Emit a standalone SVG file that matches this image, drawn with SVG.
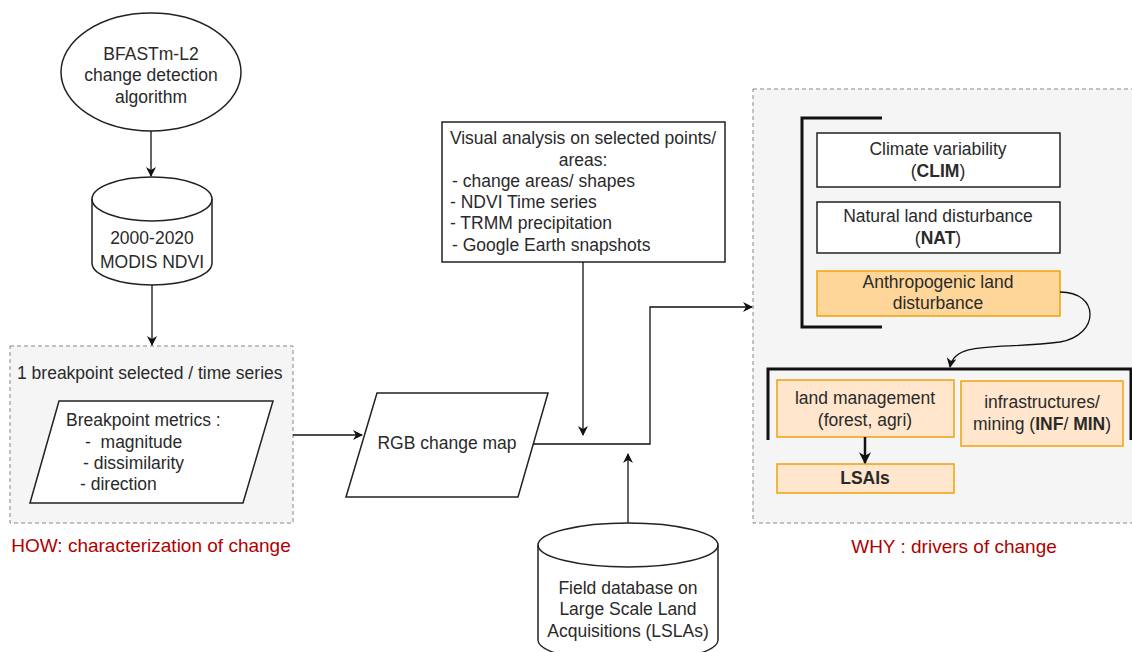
<svg xmlns="http://www.w3.org/2000/svg" width="1132" height="652" viewBox="0 0 1132 652">
<style>
text{font-family:"Liberation Sans",Arial,sans-serif;font-size:17.5px;fill:#2a2a2a;}
.c{text-anchor:middle;}
.red{fill:#b20000;font-size:19px;}
.b{font-weight:bold;}
.sh{fill:#fff;stroke:#222;stroke-width:1.5;}
.grp{fill:#f5f5f5;stroke:#888;stroke-width:1;stroke-dasharray:4 3;}
.br{fill:none;stroke:#111;stroke-width:3;}
.or{fill:#ffd699;stroke:#f0a30a;stroke-width:1.5;}
.lo{fill:#ffe6cc;stroke:#f0a30a;stroke-width:1.5;}
.ln{fill:none;stroke:#111;stroke-width:1.3;}
</style>
<defs>
<marker id="ar" viewBox="0 0 10 10" refX="9" refY="5" markerWidth="10" markerHeight="10" markerUnits="userSpaceOnUse" orient="auto">
<path d="M0,0 L10,5 L0,10 L3,5 Z" fill="#111"/>
</marker>
<marker id="ar2" viewBox="0 0 10 10" refX="9" refY="5" markerWidth="12" markerHeight="12" markerUnits="userSpaceOnUse" orient="auto">
<path d="M0,0 L10,5 L0,10 L3,5 Z" fill="#111"/>
</marker>
</defs>

<g id="how-group">
<rect class="grp" x="10" y="346" width="283" height="177"/>
<text x="17" y="379">1 breakpoint selected / time series</text>
<text class="red c" x="151" y="552">HOW: characterization of change</text>
</g>

<g id="why-group">
<rect class="grp" x="753" y="89" width="390" height="434"/>
<text class="red c" x="954" y="553">WHY : drivers of change</text>
</g>

<g id="bfast">
<ellipse class="sh" cx="151" cy="72" rx="90" ry="59"/>
<text class="c" x="151" y="60">BFASTm-L2</text>
<text class="c" x="151" y="81">change detection</text>
<text class="c" x="151" y="103">algorithm</text>
</g>

<g id="modis">
<path class="sh" d="M92,199 A60,22 0 0 1 212,199 L212,263 A60,22 0 0 1 92,263 Z"/>
<path d="M92,199 A60,22 0 0 0 212,199" fill="none" stroke="#222" stroke-width="1.5"/>
<text class="c" x="152" y="244">2000-2020</text>
<text class="c" x="152" y="268">MODIS NDVI</text>
</g>

<g id="metrics">
<path class="sh" d="M59,401 L273,401 L243,503 L30,503 Z"/>
<text x="66" y="426">Breakpoint metrics :</text>
<text x="85" y="448" xml:space="preserve">-  magnitude</text>
<text x="83" y="469">- dissimilarity</text>
<text x="80" y="490">- direction</text>
</g>

<g id="rgb">
<path class="sh" d="M377,393 L548,393 L518,497 L346,497 Z"/>
<text class="c" x="447" y="449">RGB change map</text>
</g>

<g id="visual">
<rect class="sh" x="442" y="122" width="283" height="140"/>
<text class="c" x="583" y="144">Visual analysis on selected points/</text>
<text class="c" x="583" y="166">areas:</text>
<text x="452" y="187">- change areas/ shapes</text>
<text x="450" y="208">- NDVI Time series</text>
<text x="450" y="229">- TRMM precipitation</text>
<text x="452" y="251">- Google Earth snapshots</text>
</g>

<g id="field">
<path class="sh" d="M538,545 A90,22 0 0 1 718,545 L718,640 A90,22 0 0 1 538,640 Z"/>
<path d="M538,545 A90,22 0 0 0 718,545" fill="none" stroke="#222" stroke-width="1.5"/>
<text class="c" x="628" y="594">Field database on</text>
<text class="c" x="628" y="615">Large Scale Land</text>
<text class="c" x="628" y="637">Acquisitions (LSLAs)</text>
</g>

<g id="bracket1">
<path class="br" d="M882,118 L802,118 L802,327 L882,327"/>
</g>

<g id="clim">
<rect class="sh" x="817" y="133" width="243" height="54"/>
<text class="c" x="938" y="155">Climate variability</text>
<text class="c" x="938" y="177">(<tspan class="b">CLIM</tspan>)</text>
</g>

<g id="nat">
<rect class="sh" x="817" y="202" width="243" height="51"/>
<text class="c" x="938" y="222">Natural land disturbance</text>
<text class="c" x="938" y="244">(<tspan class="b">NAT</tspan>)</text>
</g>

<g id="anthro">
<rect class="or" x="817" y="271" width="243" height="45"/>
<text class="c" x="938" y="288">Anthropogenic land</text>
<text class="c" x="938" y="309">disturbance</text>
</g>

<g id="bracket2">
<path class="br" d="M768,440 L768,369 L1131,369 L1131,440"/>
</g>

<g id="landmgmt">
<rect class="lo" x="777" y="380" width="177" height="57"/>
<text class="c" x="865" y="404">land management</text>
<text class="c" x="865" y="426">(forest, agri)</text>
</g>

<g id="infra">
<rect class="lo" x="961" y="381" width="162" height="65"/>
<text class="c" x="1042" y="408">infrastructures/</text>
<text class="c" x="1042" y="430">mining (<tspan class="b">INF</tspan>/ <tspan class="b">MIN</tspan>)</text>
</g>

<g id="lsai">
<rect class="lo" x="777" y="464" width="177" height="29"/>
<text class="c b" x="865" y="484">LSAIs</text>
</g>

<g id="connectors">
<path class="ln" d="M151,131 L151,176" marker-end="url(#ar)"/>
<path class="ln" d="M152,285 L152,345" marker-end="url(#ar)"/>
<path class="ln" d="M293,435 L362,435" marker-end="url(#ar)"/>
<path class="ln" d="M533,444 L650,444 L650,307 L752,307" marker-end="url(#ar)"/>
<path class="ln" d="M583,262 L583,435" marker-end="url(#ar)"/>
<path class="ln" d="M628,523 L628,454" marker-end="url(#ar)"/>
<path class="ln" d="M1060,292 C1100,292 1100,335 1060,342 C1000,350 955,340 950,367" marker-end="url(#ar)"/>
<path class="ln" d="M865,437 L865,463" style="stroke-width:2.5" marker-end="url(#ar2)"/>
</g>
</svg>
